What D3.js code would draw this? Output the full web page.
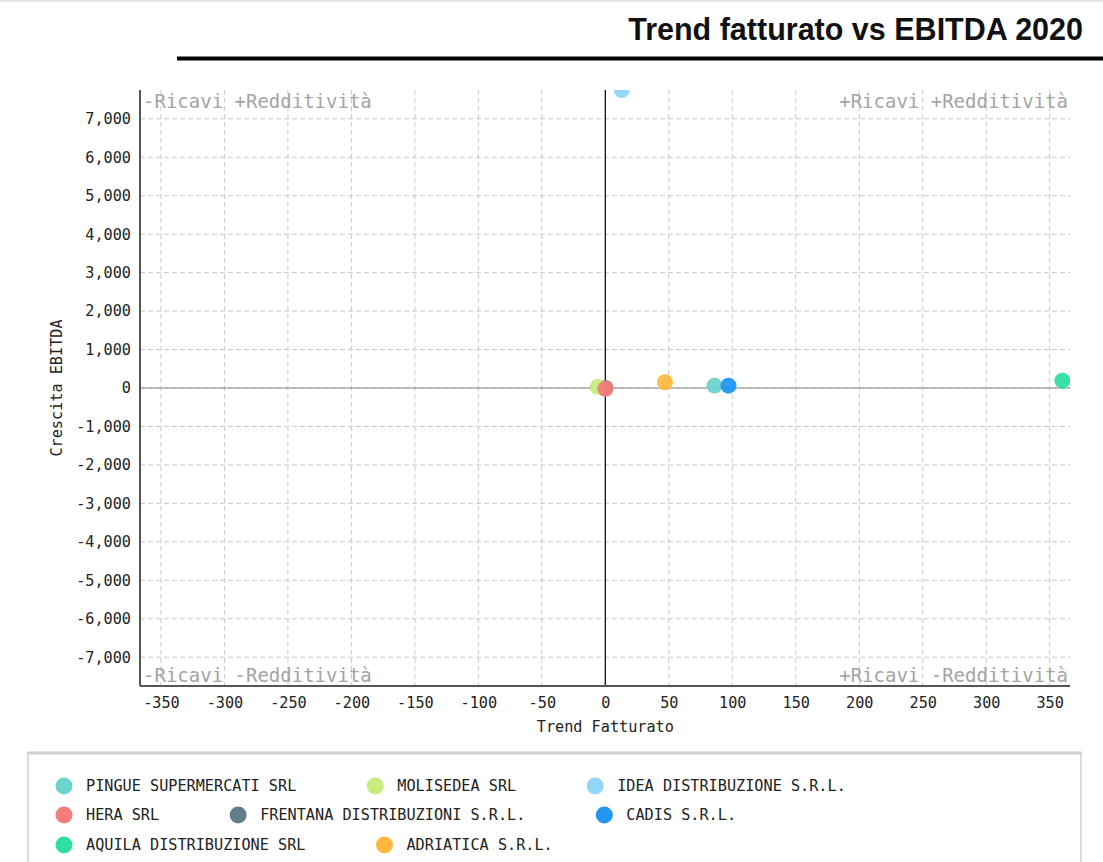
<!DOCTYPE html>
<html>
<head>
<meta charset="utf-8">
<script src="https://cdn.jsdelivr.net/npm/d3@7"></script>
<style>
    body { margin: 0; background: #fff; }
    svg { display: block; }
</style>
</head>
<body>
<div class="chart"></div>
<script>
const companies = ['PINGUE SUPERMERCATI SRL', 'MOLISEDEA SRL', 'IDEA DISTRIBUZIONE S.R.L.',
    'HERA SRL', 'FRENTANA DISTRIBUZIONI S.R.L.', 'CADIS S.R.L.',
    'AQUILA DISTRIBUZIONE SRL', 'ADRIATICA S.R.L.']
const trendFatturato = [86, -6, 13, 0, 0, 97, 360, 47]
const crescitaEbitda = [60, 30, 7750, -20, 0, 60, 190, 150]
const colors = ['#6dd3cf', '#c5ee7d', '#90d5fa', '#f47c7c', '#607d8b', '#2196f3', '#2de0a2', '#ffb83f']
const xTicks = [-350, -300, -250, -200, -150, -100, -50, 0, 50, 100, 150, 200, 250, 300, 350]
const yTicks = [-7000, -6000, -5000, -4000, -3000, -2000, -1000, 0, 1000, 2000, 3000, 4000, 5000, 6000, 7000]
const quadrantLabels = ['-Ricavi +Redditività', '+Ricavi +Redditività', '-Ricavi -Redditività', '+Ricavi -Redditività']

const W = 1103, H = 862
const mono = "'DejaVu Sans Mono', monospace"
const plot = { left: 140, right: 1070, top: 90, bottom: 686 }
const hyphen = f => d => f(d).replace('\u2212', '-')

const svg = d3.select('.chart').append('svg')
    .attr('width', W)
    .attr('height', H)

// faint top border
svg.append('line')
    .attr('x1', 0).attr('x2', W).attr('y1', 1).attr('y2', 1)
    .attr('stroke', '#e6e6e6').attr('stroke-width', 2)

// title
svg.append('text')
    .attr('x', 1083).attr('y', 40)
    .attr('text-anchor', 'end')
    .style('font-family', "'Liberation Sans', Arial, sans-serif")
    .style('font-weight', 'bold')
    .style('font-size', '30.5px')
    .attr('fill', '#111')
    .text('Trend fatturato vs EBITDA 2020')
svg.append('line')
    .attr('x1', 177).attr('x2', W).attr('y1', 58.5).attr('y2', 58.5)
    .attr('stroke', '#000').attr('stroke-width', 4)

const x = d3.scaleLinear().domain([-366.5, 366]).range([plot.left, plot.right])
const y = d3.scaleLinear().domain([-7750, 7750]).range([plot.bottom, plot.top])

// grid
const grid = svg.append('g').attr('class', 'grid')
grid.selectAll('line.v')
    .data(xTicks)
    .enter()
    .append('line')
    .attr('x1', d => x(d)).attr('x2', d => x(d))
    .attr('y1', plot.top).attr('y2', plot.bottom)
    .attr('stroke', '#c8c8c8').attr('stroke-dasharray', '5,3')
grid.selectAll('line.h')
    .data(yTicks)
    .enter()
    .append('line')
    .attr('x1', plot.left).attr('x2', plot.right)
    .attr('y1', d => y(d)).attr('y2', d => y(d))
    .attr('stroke', '#c8c8c8').attr('stroke-dasharray', '5,3')

// zero lines
svg.append('line')
    .attr('x1', plot.left).attr('x2', plot.right)
    .attr('y1', y(0)).attr('y2', y(0))
    .attr('stroke', '#888').attr('stroke-width', 1.2)
svg.append('line')
    .attr('x1', x(0)).attr('x2', x(0))
    .attr('y1', plot.top).attr('y2', plot.bottom)
    .attr('stroke', '#000').attr('stroke-width', 1.2)

// axes
const xAxis = svg.append('g')
    .attr('transform', 'translate(0,' + plot.bottom + ')')
    .call(d3.axisBottom(x).tickValues(xTicks).tickSize(0).tickPadding(11).tickFormat(hyphen(d3.format('d'))))
const yAxis = svg.append('g')
    .attr('transform', 'translate(' + plot.left + ',0)')
    .call(d3.axisLeft(y).tickValues(yTicks).tickSize(0).tickPadding(9).tickFormat(hyphen(d3.format(','))))
;[xAxis, yAxis].forEach(a => {
    a.select('.domain').attr('stroke', '#555').attr('stroke-width', 2)
    a.selectAll('text')
        .style('font-family', mono)
        .style('font-size', '15.2px')
        .attr('fill', '#222')
})
xAxis.select('.domain').attr('d', 'M' + plot.left + ',0H' + plot.right)
yAxis.select('.domain').attr('d', 'M0,' + plot.top + 'V' + plot.bottom)

svg.append('text')
    .attr('x', x(0)).attr('y', 732)
    .attr('text-anchor', 'middle')
    .style('font-family', mono).style('font-size', '15.2px')
    .attr('fill', '#222')
    .text('Trend Fatturato')
svg.append('text')
    .attr('transform', 'translate(62,' + y(0) + ') rotate(-90)')
    .attr('text-anchor', 'middle')
    .style('font-family', mono).style('font-size', '15.2px')
    .attr('fill', '#222')
    .text('Crescita EBITDA')

// quadrant labels
const qPos = [
    { x: plot.left + 3, y: 108, anchor: 'start' },
    { x: plot.right - 2, y: 108, anchor: 'end' },
    { x: plot.left + 3, y: 682, anchor: 'start' },
    { x: plot.right - 2, y: 682, anchor: 'end' }
]
svg.selectAll('text.quad')
    .data(quadrantLabels)
    .enter()
    .append('text')
    .attr('class', 'quad')
    .attr('x', (d, i) => qPos[i].x)
    .attr('y', (d, i) => qPos[i].y)
    .attr('text-anchor', (d, i) => qPos[i].anchor)
    .style('font-family', mono).style('font-size', '19px')
    .attr('fill', '#a4a4a4')
    .text(d => d)

// points
svg.append('clipPath').attr('id', 'clip')
    .append('rect')
    .attr('x', plot.left).attr('y', plot.top)
    .attr('width', plot.right - plot.left).attr('height', plot.bottom - plot.top)

const order = [4, 0, 5, 7, 6, 2, 1, 3]
svg.append('g')
    .attr('clip-path', 'url(#clip)')
    .selectAll('circle')
    .data(order)
    .enter()
    .append('circle')
    .attr('cx', i => x(trendFatturato[i]))
    .attr('cy', i => y(crescitaEbitda[i]))
    .attr('r', 8)
    .attr('fill', i => colors[i])
    .attr('opacity', 0.95)

// legend
svg.append('rect')
    .attr('x', 28).attr('y', 753)
    .attr('width', 1053).attr('height', 130)
    .attr('fill', '#fff')
    .attr('stroke', '#d0d0d0').attr('stroke-width', 1.5)
svg.append('line')
    .attr('x1', 27).attr('x2', 1082).attr('y1', 753).attr('y2', 753)
    .attr('stroke', '#cfcfcf').attr('stroke-width', 3)

const legend = svg.append('g')
const rowY = [786, 815, 845]
let cursor = 64
companies.forEach((name, i) => {
    const row = Math.floor(i / 3)
    if (i % 3 === 0) cursor = 64
    const g = legend.append('g')
    g.append('circle')
        .attr('cx', cursor).attr('cy', rowY[row])
        .attr('r', 8.5)
        .attr('fill', colors[i])
    const t = g.append('text')
        .attr('x', cursor + 22).attr('y', rowY[row] + 5)
        .style('font-family', mono).style('font-size', '15.2px')
        .attr('fill', '#222')
        .text(name)
    cursor = cursor + 22 + t.node().getComputedTextLength() + 79
})
</script>
</body>
</html>
